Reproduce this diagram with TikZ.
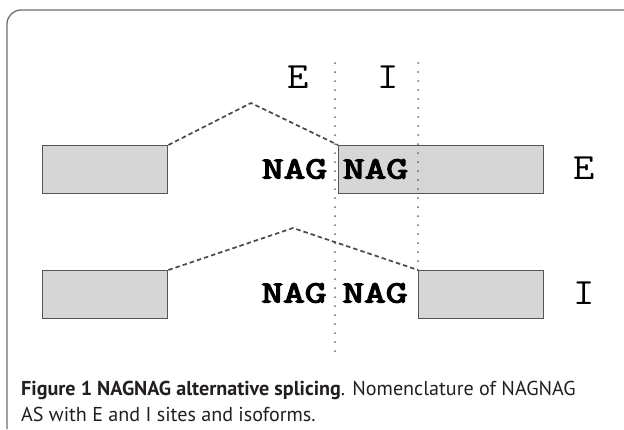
\documentclass[tikz,border=0pt]{standalone}
\usepackage{fontspec}
\setmainfont{PT Sans}
\newfontfamily\nagfont[FakeBold=3.6]{Latin Modern Mono}
\definecolor{boxfill}{HTML}{D6D6D6}
\definecolor{boxline}{HTML}{555555}
\definecolor{dashcol}{HTML}{4A4A4A}
\definecolor{dotcol}{HTML}{666666}
\definecolor{framecol}{HTML}{707070}
\definecolor{captext}{HTML}{231F20}
\begin{document}
\begin{tikzpicture}[x=1pt,y=-1pt,
  exon/.style={draw=boxline, fill=boxfill, line width=1.4pt, minimum height=48pt, inner sep=0pt, anchor=north west},
  sitelabel/.style={font=\ttfamily\fontsize{37}{37}\selectfont, inner sep=0pt, xscale=1.12},
  nag/.style={font=\nagfont\fontsize{31}{31}\selectfont, inner sep=0pt, xscale=1.36},
  junction/.style={draw=dashcol, line width=1.7pt, dash pattern=on 4.5pt off 3pt},
  siteline/.style={draw=dotcol, line width=2pt, line cap=round, dash pattern=on 0pt off 9pt},
  captionline/.style={anchor=base west, inner sep=0pt, text=captext, font=\fontsize{20.1}{24}\selectfont}]
\useasboundingbox (0,0) rectangle (624,429);
% frame
\draw[framecol, line width=1.3pt] (7,429) -- (7,24) arc[start angle=180, end angle=90, radius=14pt] -- (624,10);
% site lines
\coordinate (d1top) at (335,63);
\coordinate (d1bot) at (335,355);
\coordinate (d2top) at (418,63);
% exons
\node[exon, minimum width=125pt] (tl) at (42,145) {};
\node[exon, minimum width=205pt] (tr) at (338,145) {};
\node[exon, minimum width=125pt] (bl) at (42,270) {};
\node[exon, minimum width=125pt] (br) at (418,270) {};
\draw[siteline] (d1top) -- (d1bot);
\draw[siteline] (d2top) -- (br.north west);
% junctions
\coordinate (peakE) at (251,103);
\coordinate (peakI) at (293,228);
\draw[junction] (tl.north east) -- (peakE) -- (tr.north west);
\draw[junction] (bl.north east) -- (peakI) -- (br.north west);
% labels
\node[sitelabel] (Etop) at (298,77) {E};
\node[sitelabel] (Itop) at (388,77) {I};
\node[sitelabel] (Eright) at (584,168) {E};
\node[sitelabel] (Iright) at (584,293) {I};
\node[nag] (n1) at (294.5,169) {NAG};
\node[nag] (n2) at (375.5,169) {NAG};
\node[nag] (n3) at (294,293) {NAG};
\node[nag] (n4) at (375,293) {NAG};
% caption
\node[captionline] (cap1) at (21,395) {\bfseries Figure 1 NAGNAG alternative splicing\mdseries. Nomenclature of NAGNAG};
\node[captionline] (cap2) at (21,421) {AS with E and I sites and isoforms.};
\end{tikzpicture}
\end{document}
